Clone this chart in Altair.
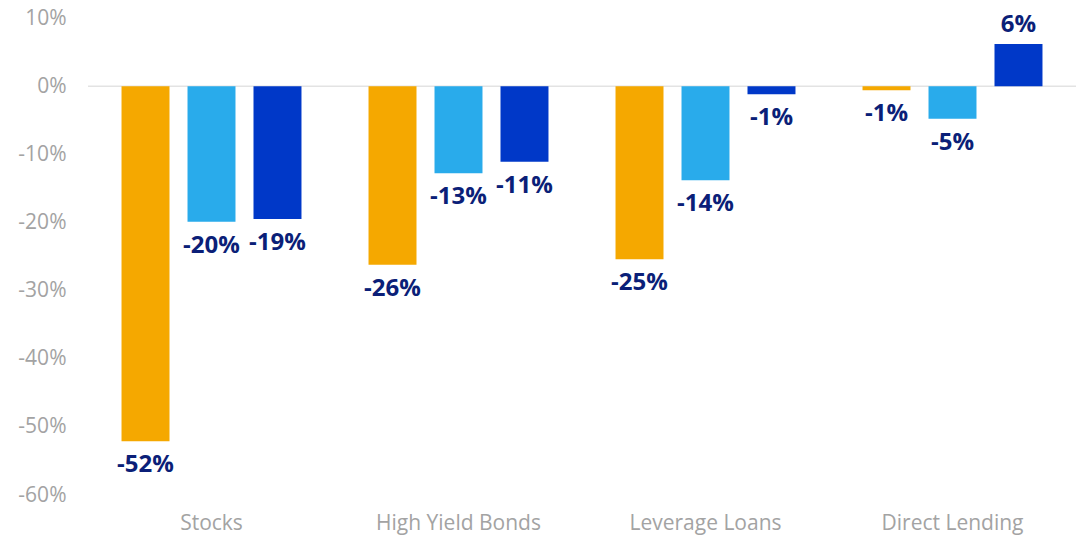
import altair as alt
import pandas as pd

categories = ["Stocks", "High Yield Bonds", "Leverage Loans", "Direct Lending"]
series = ["Series 1", "Series 2", "Series 3"]
values_s1 = [-52.1, -26.2, -25.4, -0.6]
values_s2 = [-19.9, -12.8, -13.8, -4.8]
values_s3 = [-19.5, -11.1, -1.2, 6.2]
labels_s1 = ["-52%", "-26%", "-25%", "-1%"]
labels_s2 = ["-20%", "-13%", "-14%", "-5%"]
labels_s3 = ["-19%", "-11%", "-1%", "6%"]
colors = ["#F5A800", "#29ABEB", "#0038C8"]

rows = []
for s, vals, labs in zip(series, [values_s1, values_s2, values_s3], [labels_s1, labels_s2, labels_s3]):
    for c, v, l in zip(categories, vals, labs):
        rows.append({"category": c, "series": s, "value": v, "label": l})
df = pd.DataFrame(rows)

FONT = "Open Sans"

x = alt.X("category:N", sort=categories, title=None,
          scale=alt.Scale(paddingInner=0, paddingOuter=0),
          axis=alt.Axis(labelAngle=0, labelFont=FONT, labelFontSize=21, labelColor="#A3A3A3",
                        ticks=False, domain=False, labelPadding=17))
xo = alt.XOffset("series:N", sort=series,
                 scale=alt.Scale(paddingInner=0.273, paddingOuter=0.508))
y = alt.Y("value:Q", title=None,
          scale=alt.Scale(domain=[-60, 10], nice=False, zero=True),
          axis=alt.Axis(values=[-60, -50, -40, -30, -20, -10, 0, 10], labelExpr="datum.value + '%'",
                        labelFont=FONT, labelFontSize=21, labelColor="#A3A3A3",
                        ticks=False, domain=False, grid=False, labelPadding=22))

base = alt.Chart(df)

bars = base.mark_bar().encode(
    x=x, xOffset=xo, y=y,
    color=alt.Color("series:N", sort=series, scale=alt.Scale(domain=series, range=colors), legend=None),
)

zero = alt.Chart(pd.DataFrame({"z": [0]})).mark_rule(color="#E3E3E3", strokeWidth=1.5).encode(y=alt.Y("z:Q"))

neg = base.transform_filter("datum.value < 0").mark_text(
    baseline="top", dy=12, font=FONT, fontSize=24, fontWeight="bold", color="#0B1F78"
).encode(x=x, xOffset=xo, y=y, text="label:N")

pos = base.transform_filter("datum.value >= 0").mark_text(
    baseline="alphabetic", dy=-12, font=FONT, fontSize=24, fontWeight="bold", color="#0B1F78"
).encode(x=x, xOffset=xo, y=y, text="label:N")

chart = alt.layer(zero, bars, neg, pos).properties(
    width=988, height=477,
    autosize=alt.AutoSizeParams(type="none"),
    padding={"left": 80, "top": 10, "right": 0, "bottom": 41},
).configure_view(stroke=None)

chart.save("out.html", embed_options={"renderer": "svg", "actions": False})
